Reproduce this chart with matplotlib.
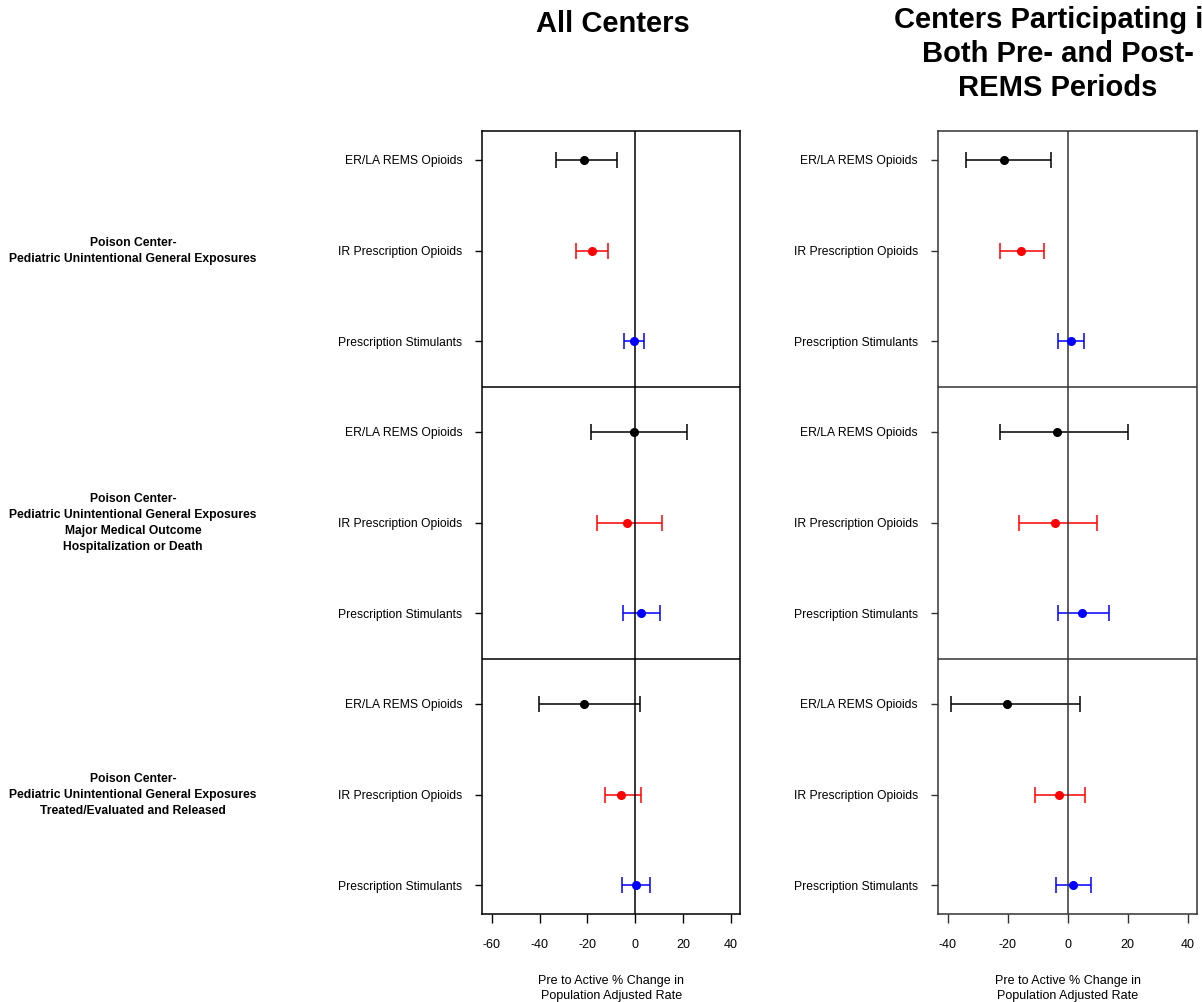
import matplotlib
matplotlib.use('Agg')
import matplotlib.pyplot as plt
import numpy as np

plt.rcParams['font.family'] = ['Liberation Sans', 'DejaVu Sans']

# outcome groups (left side labels)
groups = ['Poison Center-\nPediatric Unintentional General Exposures',
          'Poison Center-\nPediatric Unintentional General Exposures\nMajor Medical Outcome\nHospitalization or Death',
          'Poison Center-\nPediatric Unintentional General Exposures\nTreated/Evaluated and Released']
drugs = ['ER/LA REMS Opioids', 'IR Prescription Opioids', 'Prescription Stimulants']
drug_colors = ['black', 'red', 'blue']

# % change, all centers
all_est = [-21.3, -18.0, -0.4, -0.5, -3.3, 2.5, -21.6, -5.9, 0.3]
all_lo = [-33.0, -24.7, -4.6, -18.4, -15.9, -5.0, -40.2, -12.6, -5.4]
all_hi = [-7.5, -11.3, 3.8, 21.5, 11.3, 10.5, 1.8, 2.3, 6.0]

# % change, centers in both pre- and post-REMS periods
both_est = [-21.3, -15.7, 1.1, -3.7, -4.3, 4.8, -20.3, -3.0, 1.8]
both_lo = [-34.0, -22.7, -3.2, -22.7, -16.3, -3.2, -39.0, -10.9, -3.9]
both_hi = [-5.5, -7.9, 5.5, 20.2, 9.8, 13.9, 4.2, 5.8, 7.8]

all_xticks = [-60, -40, -20, 0, 20, 40]
both_xticks = [-40, -20, 0, 20, 40]

xlab = 'Pre to Active % Change in\nPopulation Adjusted Rate'


def forest(ax, est, lo, hi, xticks, lc='black'):
    n = len(est)
    y = np.arange(1, n + 1)
    for i in range(n):
        c = drug_colors[i % 3]
        ax.errorbar(est[i], y[i], xerr=[[est[i] - lo[i]], [hi[i] - est[i]]],
                    fmt='o', color=c, ms=5.5, elinewidth=1.1, capsize=5.5,
                    capthick=1.1)
    ax.axvline(0, color=lc, lw=1.1)
    for b in [3.5, 6.5]:
        ax.axhline(b, color=lc, lw=1.1)
    # R style 4% padding around the range
    r = xticks[-1] - xticks[0]
    ax.set_xlim(xticks[0] - 0.04 * r, xticks[-1] + 0.04 * r)
    ax.set_ylim(n + 0.32, 0.68)
    ax.set_xticks(xticks)
    ax.set_xticklabels([str(t) for t in xticks], fontsize=9)
    ax.set_yticks(y)
    ax.set_yticklabels([drugs[i % 3] for i in range(n)], fontsize=8.7)
    ax.tick_params(axis='x', length=6.5, width=1, pad=11.5, color=lc)
    ax.tick_params(axis='y', length=5, width=1, pad=9.5, color=lc)
    for s in ax.spines.values():
        s.set_linewidth(1.1)
        s.set_color(lc)
    ax.set_xlabel(xlab, fontsize=9, labelpad=17, linespacing=1.3)


fig = plt.figure(figsize=(12.02, 10.02), dpi=100)
ax1 = fig.add_axes([0.4013, 0.0875, 0.2146, 0.7818])
ax2 = fig.add_axes([0.7804, 0.0875, 0.2157, 0.7818])

forest(ax1, all_est, all_lo, all_hi, all_xticks)
forest(ax2, both_est, both_lo, both_hi, both_xticks, lc='#333333')

# group labels at the middle row of each group
for k, g in enumerate(groups):
    yy = ax1.transData.transform((0, 3 * k + 2))[1]
    fig.text(133 / 1202, yy / fig.dpi / fig.get_figheight(), g, ha='center',
             va='center', fontsize=8.7, fontweight='bold', linespacing=1.45)

fig.text(613 / 1202, 1 - 24 / 1002, 'All Centers', ha='center', va='center',
         fontsize=21, fontweight='bold')
fig.text(1058 / 1202, 1 - 54 / 1002,
         'Centers Participating in\nBoth Pre- and Post-\nREMS Periods',
         ha='center', va='center', fontsize=21, fontweight='bold',
         linespacing=1.25)

fig.savefig('out.png', dpi=100)
